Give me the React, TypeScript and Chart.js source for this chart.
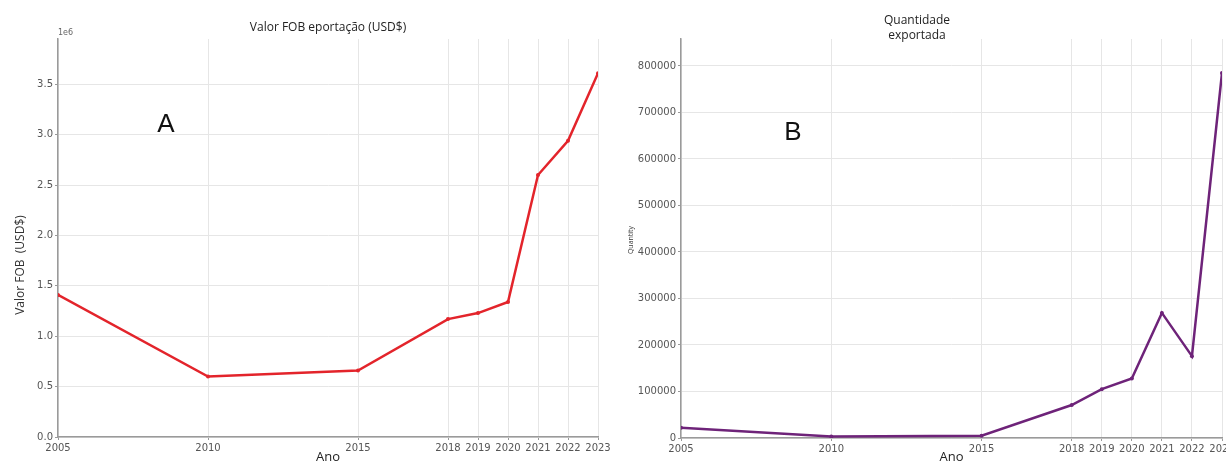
import React, { useEffect, useRef } from "react";
import { Chart, registerables } from "chart.js";

Chart.register(...registerables);

// ---- data ----
const years = [2005, 2010, 2015, 2018, 2019, 2020, 2021, 2022, 2023];
const fobValues = [1410000, 600000, 660000, 1170000, 1230000, 1340000, 2600000, 2940000, 3610000];
const quantityValues = [22000, 3000, 5000, 71000, 105000, 128000, 269000, 176000, 785000];
const fobTicks = [0, 500000, 1000000, 1500000, 2000000, 2500000, 3000000, 3500000];
const quantityTicks = [0, 100000, 200000, 300000, 400000, 500000, 600000, 700000, 800000];
const titleA = "Valor FOB eportação (USD$)";
const titleB = ["Quantidade", "exportada"];
const xLabel = "Ano";
const yLabelA = "Valor FOB  (USD$)";
const yLabelB = "Quantity";
const panelA = "A";
const panelB = "B";
const exponentA = "1e6";

type Extra = {
  yLabel: string;
  yLabelX: number;
  yLabelY: number;
  yLabelSize: number;
  panel: string;
  panelX: number;
  panelY: number;
  exponent?: string;
};

const extraTextPlugin = {
  id: "extraText",
  afterDraw(chart: any) {
    const ex: Extra = chart.options.plugins.extraText;
    if (!ex) return;
    const ctx = chart.ctx;
    ctx.save();
    // y axis label
    ctx.save();
    ctx.translate(ex.yLabelX, ex.yLabelY);
    ctx.rotate(-Math.PI / 2);
    ctx.fillStyle = "#333";
    ctx.font = `${ex.yLabelSize}px "Open Sans"`;
    ctx.textAlign = "center";
    ctx.textBaseline = "middle";
    ctx.fillText(ex.yLabel, 0, 0);
    ctx.restore();
    // panel letter
    ctx.fillStyle = "#111";
    ctx.font = `26px "Liberation Sans"`;
    ctx.textAlign = "center";
    ctx.textBaseline = "middle";
    ctx.fillText(ex.panel, ex.panelX, ex.panelY);
    // exponent
    if (ex.exponent) {
      ctx.fillStyle = "#666";
      ctx.font = `8px "DejaVu Sans"`;
      ctx.textAlign = "left";
      ctx.textBaseline = "middle";
      ctx.fillText(ex.exponent, chart.chartArea.left, chart.chartArea.top - 6);
    }
    ctx.restore();
  },
};

function makeConfig(opts: {
  values: number[];
  color: string;
  yMax: number;
  yTicks: number[];
  yFmt: (v: number) => string;
  title: string | string[];
  titlePad: { top: number; bottom: number };
  titleFull: boolean;
  yWidth: number;
  padRight: number;
  bottomH: number;
  extra: Extra;
}): any {
  const tickFont = { family: "DejaVu Sans", size: 10 };
  return {
    type: "line",
    data: {
      datasets: [
        {
          data: years.map((y, i) => ({ x: y, y: opts.values[i] })),
          borderColor: opts.color,
          backgroundColor: opts.color,
          borderWidth: 2.5,
          pointRadius: 2,
          pointBorderWidth: 0,
          pointBackgroundColor: opts.color,
          tension: 0,
        },
      ],
    },
    options: {
      animation: false,
      responsive: false,
      devicePixelRatio: 1,
      layout: { padding: { left: 0, right: opts.padRight, top: 0, bottom: 0 } },
      plugins: {
        legend: { display: false },
        tooltip: { enabled: false },
        title: {
          display: true,
          text: opts.title,
          fullSize: opts.titleFull,
          color: "#222",
          font: { family: "Open Sans", size: 12, weight: "normal", lineHeight: 1.25 },
          padding: opts.titlePad,
        },
        extraText: opts.extra,
      },
      scales: {
        x: {
          type: "linear",
          min: 2005,
          max: 2023,
          afterBuildTicks: (s: any) => {
            s.ticks = years.map((v) => ({ value: v }));
          },
          afterFit: (s: any) => {
            s.height = opts.bottomH;
          },
          ticks: {
            autoSkip: false,
            maxRotation: 0,
            minRotation: 0,
            padding: 2,
            color: "#555",
            font: tickFont,
            callback: (v: any) => String(v),
          },
          grid: { color: "#e6e6e6", lineWidth: 1, tickLength: 3, tickColor: "#999" },
          border: { color: "#9a9a9a", width: 1.5 },
          title: {
            display: true,
            text: xLabel,
            color: "#222",
            font: { family: "Open Sans", size: 13, lineHeight: 1 },
            padding: 0,
          },
        },
        y: {
          type: "linear",
          min: 0,
          max: opts.yMax,
          afterBuildTicks: (s: any) => {
            s.ticks = opts.yTicks.map((v) => ({ value: v }));
          },
          afterFit: (s: any) => {
            s.width = opts.yWidth;
          },
          ticks: {
            padding: 2,
            color: "#555",
            font: tickFont,
            callback: (v: any) => opts.yFmt(Number(v)),
          },
          grid: { color: "#e6e6e6", lineWidth: 1, tickLength: 3, tickColor: "#999" },
          border: { color: "#9a9a9a", width: 1.5 },
        },
      },
    },
    plugins: [extraTextPlugin],
  };
}

function ChartCanvas(props: { config: any; left: number; width: number; height: number }) {
  const ref = useRef<HTMLCanvasElement | null>(null);
  useEffect(() => {
    if (!ref.current) return;
    const chart = new Chart(ref.current, props.config);
    return () => chart.destroy();
  }, []);
  return (
    <canvas
      ref={ref}
      width={props.width}
      height={props.height}
      style={{ position: "absolute", left: props.left, top: 0, width: props.width, height: props.height }}
    />
  );
}

export default function App() {
  const cfgA = makeConfig({
    values: fobValues,
    color: "#e3242b",
    yMax: 3950000,
    yTicks: fobTicks,
    yFmt: (v) => (v / 1e6).toFixed(1),
    title: titleA,
    titlePad: { top: 20, bottom: 4 },
    titleFull: false,
    yWidth: 58,
    padRight: 22,
    bottomH: 27,
    extra: {
      yLabel: yLabelA,
      yLabelX: 21,
      yLabelY: 265,
      yLabelSize: 12,
      panel: panelA,
      panelX: 166,
      panelY: 125,
      exponent: exponentA,
    },
  });
  const cfgB = makeConfig({
    values: quantityValues,
    color: "#6e2379",
    yMax: 858000,
    yTicks: quantityTicks,
    yFmt: (v) => String(Math.round(v)),
    title: titleB,
    titlePad: { top: 13, bottom: -4 },
    titleFull: true,
    yWidth: 69,
    padRight: 40,
    bottomH: 26,
    extra: {
      yLabel: yLabelB,
      yLabelX: 19,
      yLabelY: 240,
      yLabelSize: 7,
      panel: panelB,
      panelX: 181,
      panelY: 133,
    },
  });
  return (
    <div
      style={{
        position: "fixed",
        left: 0,
        top: 0,
        width: 1226,
        height: 464,
        overflow: "hidden",
        background: "#fff",
      }}
    >
      <ChartCanvas config={cfgA} left={0} width={620} height={464} />
      <ChartCanvas config={cfgB} left={612} width={650} height={464} />
    </div>
  );
}
